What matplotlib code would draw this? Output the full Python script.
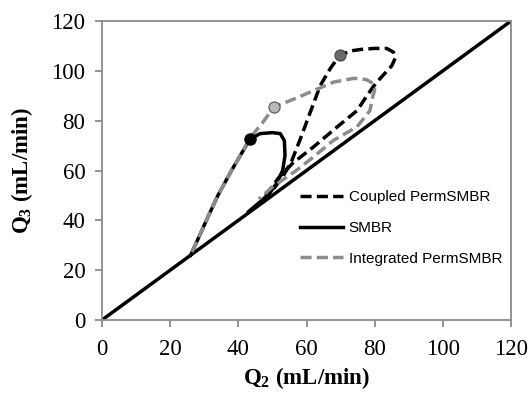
import numpy as np
import matplotlib.pyplot as plt
from matplotlib.lines import Line2D

# ---- data ----
diag_x = [0, 120]
diag_y = [0, 120]

coupled_x = [47, 50, 53, 55.7, 58, 61, 64, 67, 69.8, 73, 76, 80, 83.5, 85.5, 86, 85, 83, 81,
             79.5, 77, 74.8, 69, 62, 56, 52, 48]
coupled_y = [48, 52, 57.4, 64, 72, 83, 94, 101, 106.3, 108, 108.6, 109, 109, 107.5, 105, 102, 99, 96,
             93.5, 88.5, 84, 77.5, 69.4, 63, 57.4, 50]

smbr_x = [26, 28, 30.3, 34, 38, 41, 43.4, 46.4, 50, 52.3, 53.5, 53.7, 53, 51.3, 49, 46, 43]
smbr_y = [26, 32, 39, 50, 60, 67, 72.6, 74.8, 75.2, 74.8, 72, 66, 60, 55, 50.5, 47, 43.5]

integ_x = [26.4, 30.3, 34, 38, 41, 43.4, 47, 50.5, 56, 62, 68, 74, 77.5, 79.5, 80, 79.5,
           78.6, 74.8, 67.8, 62, 57, 50, 46]
integ_y = [27.3, 39, 50, 60, 67, 73, 79, 85.5, 88.5, 92, 95.5, 97, 96.5, 95, 92.5, 90,
           84, 77.5, 72, 65.4, 60, 53.4, 48.5]

dot_coupled = (69.8, 106.3)
dot_smbr = (43.4, 72.6)
dot_integ = (50.5, 85.5)

xticks = [0, 20, 40, 60, 80, 100, 120]
yticks = [0, 20, 40, 60, 80, 100, 120]

plt.rcParams["mathtext.fontset"] = "custom"
plt.rcParams["mathtext.rm"] = "Liberation Serif:bold"
plt.rcParams["mathtext.it"] = "Liberation Serif:bold"
plt.rcParams["mathtext.bf"] = "Liberation Serif:bold"

fig = plt.figure(figsize=(5.29, 3.94), dpi=100)
ax = fig.add_axes([0.1928, 0.1878, 0.7732, 0.7589])

gray = "#8c8c8c"
lw = 2.5
dash = (3.2, 1.5)

ax.plot(diag_x, diag_y, color="black", lw=lw, solid_capstyle="butt")
ax.plot(coupled_x, coupled_y, color="black", lw=lw, ls=(0, dash))
ax.plot(smbr_x, smbr_y, color="black", lw=lw)
ax.plot(integ_x, integ_y, color=gray, lw=lw, ls=(0, dash))

ax.plot(*dot_coupled, "o", ms=8, mfc="#6a6a6a", mec="#444444", mew=0.8, zorder=5)
ax.plot(*dot_smbr, "o", ms=8, mfc="black", mec="black", zorder=5)
ax.plot(*dot_integ, "o", ms=8, mfc="#b8b8b8", mec="#555555", mew=0.8, zorder=5)

ax.set_xlim(0, 120)
ax.set_ylim(0, 120)
ax.set_xticks(xticks)
ax.set_yticks(yticks)

for sp in ax.spines.values():
    sp.set_color("#8a8a8a")
    sp.set_linewidth(1.3)
ax.tick_params(direction="out", length=5, width=1.3, color="#8a8a8a", labelsize=16.5)
ax.tick_params(axis="x", pad=9)
ax.tick_params(axis="y", pad=7)
for lab in ax.get_xticklabels() + ax.get_yticklabels():
    lab.set_fontfamily("Liberation Serif")

ax.set_xlabel("Q$_2$ (mL/min)", fontfamily="Liberation Serif", fontweight="bold",
              fontsize=16.5, labelpad=3)
ax.set_ylabel("Q$_3$ (mL/min)", fontfamily="Liberation Serif", fontweight="bold",
              fontsize=16.5, labelpad=12)

handles = [
    Line2D([], [], color="black", lw=lw, ls=(0, dash)),
    Line2D([], [], color="black", lw=lw),
    Line2D([], [], color=gray, lw=lw, ls=(0, dash)),
]
labels = ["Coupled PermSMBR", "SMBR", "Integrated PermSMBR"]
ax.legend(handles, labels, loc="center left", bbox_to_anchor=(0.484, 0.308),
          frameon=False, borderpad=0, borderaxespad=0, handlelength=2.8,
          handletextpad=0.4, labelspacing=1.1,
          prop={"family": "Liberation Sans", "size": 11})

plt.savefig("out.png", dpi=100)
